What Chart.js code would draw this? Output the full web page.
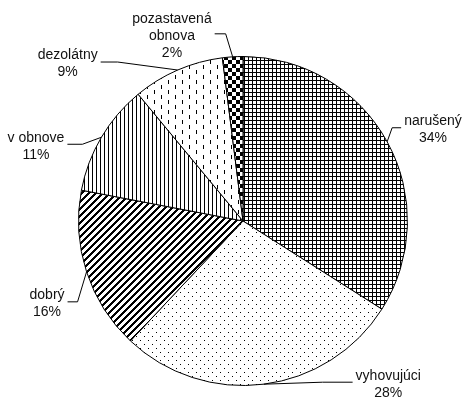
<!DOCTYPE html>
<html>
<head>
<meta charset="utf-8">
<script src="https://cdn.jsdelivr.net/npm/chart.js@4/dist/chart.umd.min.js"></script>
<style>
  html, body { margin: 0; padding: 0; background: #fff; }
  #wrap { width: 462px; height: 400px; }
</style>
</head>
<body>
<div id="wrap"><canvas id="c" width="462" height="400"></canvas></div>
<script>
// ---- data ----
const categories = ['narušený', 'vyhovujúci', 'dobrý', 'v obnove', 'dezolátny', ['pozastavená', 'obnova']];
const shares = [34, 28, 16, 11, 9, 2];

// ---- style: label placement relative to slice edge midpoint ----
// [dx, dy of leader end from arc point, side (+1 label right / -1 label left), elbow length]
const labelPlacement = [
  [14, -14, 1, 9],
  [89, -2, 1, 30],
  [-19, 30, -1, 10],
  [-34, 7, -1, 15],
  [-77, -8, -1, 17],
  [-18, -23, -1, 11]
];

function makeTile(w, h, draw) {
  const c = document.createElement('canvas');
  c.width = w; c.height = h;
  const g = c.getContext('2d');
  g.fillStyle = '#fff'; g.fillRect(0, 0, w, h);
  g.fillStyle = '#000';
  draw(g, w, h);
  return c;
}
const pctx = document.getElementById('c').getContext('2d');
const patterns = [
  // grid
  pctx.createPattern(makeTile(4, 4, (g) => { g.fillRect(0, 0, 4, 1); g.fillRect(0, 0, 1, 4); }), 'repeat'),
  // sparse dots
  pctx.createPattern(makeTile(8, 8, (g) => { g.fillRect(0, 0, 1, 1); g.fillRect(4, 4, 1, 1); }), 'repeat'),
  // thick diagonal stripes "/"
  pctx.createPattern(makeTile(7, 7, (g) => {
    for (let x = 0; x < 7; x++) for (let y = 0; y < 7; y++) if ((x + y) % 7 < 3) g.fillRect(x, y, 1, 1);
  }), 'repeat'),
  // vertical lines
  pctx.createPattern(makeTile(4, 4, (g) => { g.fillRect(0, 0, 1, 4); }), 'repeat'),
  // dashed vertical
  pctx.createPattern(makeTile(14, 10, (g) => { g.fillRect(0, 0, 1, 4); g.fillRect(7, 5, 1, 4); }), 'repeat'),
  // checkerboard
  pctx.createPattern(makeTile(8, 8, (g) => { g.fillRect(0, 0, 4, 4); g.fillRect(4, 4, 4, 4); }), 'repeat')
];

const total = shares.reduce((a, b) => a + b, 0);

const leaderLabels = {
  id: 'leaderLabels',
  afterDatasetsDraw(chart) {
    const ctx = chart.ctx;
    const meta = chart.getDatasetMeta(0);
    ctx.save();
    ctx.font = '14px "Liberation Sans", Arial, sans-serif';
    ctx.fillStyle = '#111';
    ctx.strokeStyle = '#000';
    ctx.lineWidth = 1;
    ctx.textBaseline = 'middle';
    ctx.textAlign = 'center';
    meta.data.forEach((arc, i) => {
      const p = arc.getProps(['x', 'y', 'startAngle', 'endAngle', 'outerRadius'], true);
      const mid = (p.startAngle + p.endAngle) / 2;
      const ax = p.x + p.outerRadius * Math.cos(mid);
      const ay = p.y + p.outerRadius * Math.sin(mid);
      const [dx, dy, side, elbow] = labelPlacement[i];
      const ex = ax + dx, ey = ay + dy;
      const bx = ex - side * elbow;
      ctx.beginPath();
      ctx.moveTo(ax, ay);
      ctx.lineTo(bx, ey);
      ctx.lineTo(ex, ey);
      ctx.stroke();
      const name = Array.isArray(categories[i]) ? categories[i] : [categories[i]];
      const lines = name.concat([Math.round(shares[i] / total * 100) + '%']);
      const w = Math.max(...lines.map(l => ctx.measureText(l).width));
      const cx = side > 0 ? ex + 3 + w / 2 : ex - 3 - w / 2;
      const lh = 17;
      const top = ey + 2 - (lines.length - 1) * lh / 2;
      lines.forEach((l, k) => ctx.fillText(l, cx, top + k * lh));
    });
    ctx.restore();
  }
};

new Chart(document.getElementById('c'), {
  type: 'pie',
  data: {
    labels: categories,
    datasets: [{
      data: shares,
      backgroundColor: patterns,
      borderColor: '#000',
      borderWidth: 1
    }]
  },
  options: {
    responsive: false,
    animation: false,
    events: [],
    layout: { padding: { left: 78, right: 54, top: 56, bottom: 14 } },
    plugins: { legend: { display: false }, tooltip: { enabled: false } }
  },
  plugins: [leaderLabels]
});
</script>
</body>
</html>
